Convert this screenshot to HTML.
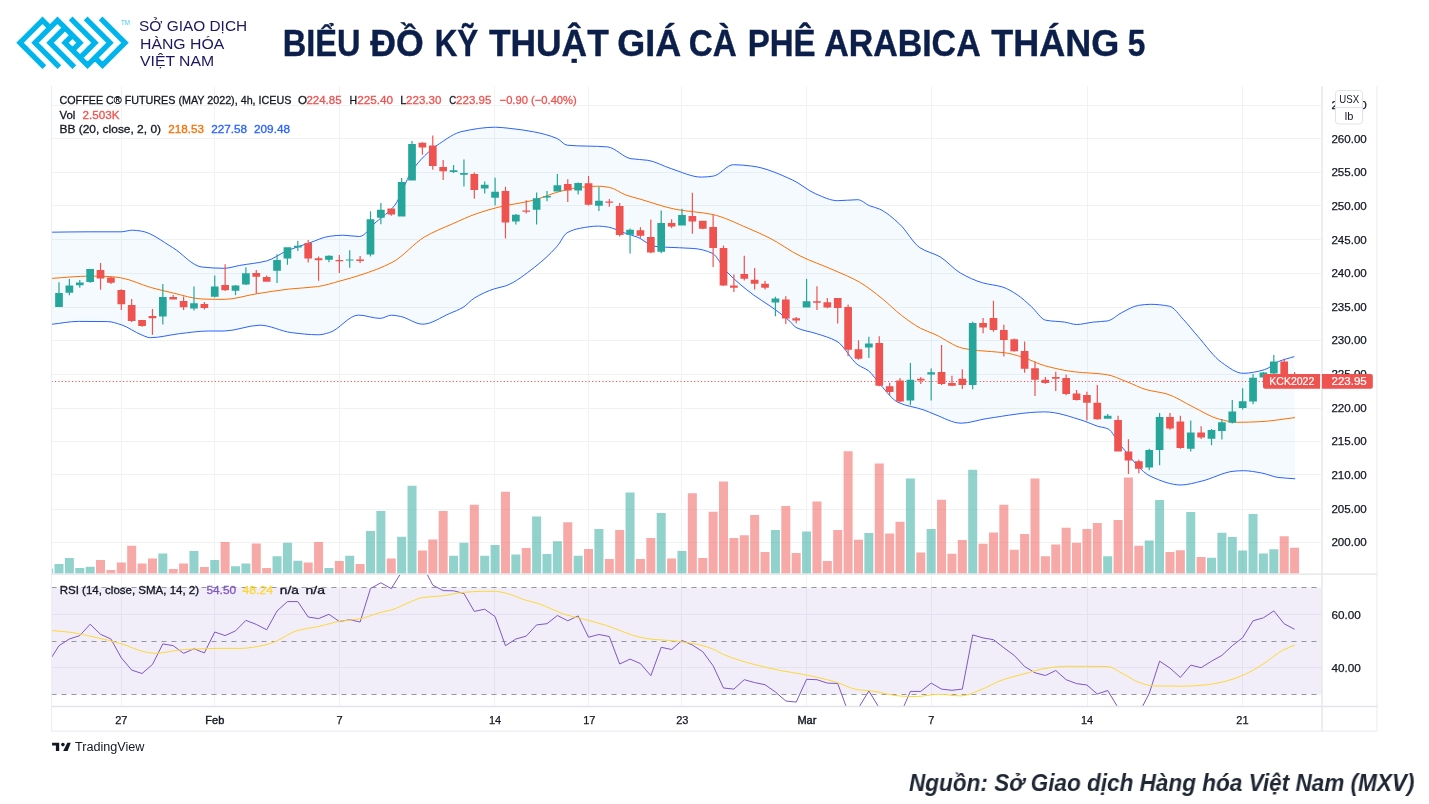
<!DOCTYPE html>
<html><head><meta charset="utf-8"><style>
html,body{margin:0;padding:0;background:#fff;}
body{width:1429px;height:804px;overflow:hidden;position:relative;font-family:"Liberation Sans",sans-serif;}
svg text{font-family:"Liberation Sans",sans-serif;}
.t{position:absolute;white-space:nowrap;line-height:1;}
svg,.t{will-change:transform;}
</style></head><body>
<svg width="150" height="80" style="position:absolute;left:0;top:0"><path transform="matrix(3.75,3.75,3.75,-3.75,72.5,42.85)" d="M-7.5 -7.5h3v1h-3ZM-5.5 -7.5h3v1h-3ZM-3.5 -7.5h3v1h-3ZM-7.5 -1.5h3v1h-3ZM-5.5 -5.5h3v1h-3ZM-3.5 -5.5h3v1h-3ZM-1.5 -5.5h3v1h-3ZM-5.5 0.5h3v1h-3ZM-3.5 0.5h3v1h-3ZM-1.5 0.5h3v1h-3ZM-3.5 -3.5h3v1h-3ZM-1.5 -3.5h3v1h-3ZM0.5 -3.5h3v1h-3ZM-1.5 -1.5h3v1h-3ZM0.5 -1.5h3v1h-3ZM2.5 -1.5h3v1h-3ZM4.5 6.5h3v1h-3ZM2.5 6.5h3v1h-3ZM0.5 6.5h3v1h-3ZM4.5 0.5h3v1h-3ZM2.5 4.5h3v1h-3ZM0.5 4.5h3v1h-3ZM-1.5 4.5h3v1h-3ZM0.5 2.5h3v1h-3ZM-1.5 2.5h3v1h-3ZM-3.5 2.5h3v1h-3ZM-7.5 -7.5h1v3h-1ZM-7.5 -5.5h1v3h-1ZM-7.5 -3.5h1v3h-1ZM-5.5 -5.5h1v3h-1ZM-5.5 -3.5h1v3h-1ZM-5.5 -1.5h1v3h-1ZM-3.5 -3.5h1v3h-1ZM-3.5 -1.5h1v3h-1ZM-1.5 -1.5h1v3h-1ZM6.5 4.5h1v3h-1ZM6.5 2.5h1v3h-1ZM6.5 0.5h1v3h-1ZM4.5 2.5h1v3h-1ZM4.5 0.5h1v3h-1ZM4.5 -1.5h1v3h-1ZM2.5 0.5h1v3h-1ZM2.5 -1.5h1v3h-1ZM0.5 -1.5h1v3h-1Z" fill="#00b5ec"/><text x="121" y="24.9" font-size="6.6" textLength="9" lengthAdjust="spacingAndGlyphs" fill="#00b5ec" opacity="0.75">TM</text></svg>
<div class="t" id="lt1" style="left:139px;top:18px;font-size:15.4px;color:#1c1760">SỞ GIAO DỊCH</div>
<div class="t" id="lt2" style="left:139.5px;top:35.5px;font-size:15.4px;color:#1c1760;transform-origin:0 0;transform:scaleX(1.026)">HÀNG HÓA</div>
<div class="t" id="lt3" style="left:139.5px;top:53px;font-size:15.4px;color:#1c1760;transform-origin:0 0;transform:scaleX(1.024)">VIỆT NAM</div>
<svg width="1429" height="80" style="position:absolute;left:0;top:0"><g font-size="36" font-weight="bold" fill="#0b1f4a" stroke="#0b1f4a" stroke-width="0.4"><text x="282.79" y="56.4" textLength="77.73" lengthAdjust="spacingAndGlyphs">BIỂU</text><text x="370.3" y="56.4" textLength="53.49" lengthAdjust="spacingAndGlyphs">ĐỒ</text><text x="434.66" y="56.4" textLength="43.63" lengthAdjust="spacingAndGlyphs">KỸ</text><text x="488.9" y="56.4" textLength="119.88" lengthAdjust="spacingAndGlyphs">THUẬT</text><text x="617.3" y="56.4" textLength="63.91" lengthAdjust="spacingAndGlyphs">GIÁ</text><text x="688.86" y="56.4" textLength="47.97" lengthAdjust="spacingAndGlyphs">CÀ</text><text x="747.67" y="56.4" textLength="67.88" lengthAdjust="spacingAndGlyphs">PHÊ</text><text x="824.16" y="56.4" textLength="156.49" lengthAdjust="spacingAndGlyphs">ARABICA</text><text x="991.2" y="56.4" textLength="128" lengthAdjust="spacingAndGlyphs">THÁNG</text><text x="1127.82" y="56.4" textLength="17.58" lengthAdjust="spacingAndGlyphs">5</text></g></svg>
<svg width="1429" height="804" viewBox="0 0 1429 804" style="position:absolute;left:0;top:0"><defs><clipPath id="cp"><rect x="51.5" y="86" width="1270.0" height="488"/></clipPath><clipPath id="cr"><rect x="51.5" y="575" width="1270.0" height="131"/></clipPath></defs><path d="M121.5 86V706M214.5 86V706M339.5 86V706M494.5 86V706M588.5 86V706M681.5 86V706M806.5 86V706M931.5 86V706M1087.5 86V706M1242.5 86V706M51.5 105.5H1321.5M51.5 138.5H1321.5M51.5 172.5H1321.5M51.5 205.5H1321.5M51.5 239.5H1321.5M51.5 273.5H1321.5M51.5 307.5H1321.5M51.5 340.5H1321.5M51.5 374.5H1321.5M51.5 408.5H1321.5M51.5 441.5H1321.5M51.5 474.5H1321.5M51.5 509.5H1321.5M51.5 542.5H1321.5M51.5 614.5H1321.5M51.5 667.5H1321.5" stroke="#f1f3f3" stroke-width="1" fill="none"/><rect x="51.5" y="587.5" width="1270.0" height="107" fill="#f2eef9"/><path d="M121.5 587.8V694.6M214.5 587.8V694.6M339.5 587.8V694.6M494.5 587.8V694.6M588.5 587.8V694.6M681.5 587.8V694.6M806.5 587.8V694.6M931.5 587.8V694.6M1087.5 587.8V694.6M1242.5 587.8V694.6M51.5 614.5H1321.5M51.5 667.5H1321.5" stroke="#e6e1f0" stroke-width="1" fill="none"/><path d="M51.5 587.5H1321.5" stroke="#9598a1" stroke-width="1" stroke-dasharray="5 5" fill="none"/><path d="M51.5 641.5H1321.5" stroke="#9598a1" stroke-width="1" stroke-dasharray="5 5" fill="none"/><path d="M51.5 694.5H1321.5" stroke="#9598a1" stroke-width="1" stroke-dasharray="5 5" fill="none"/><g clip-path="url(#cp)"><path d="M51.7 232.2C64.4 232.07 77.1 231.8 89.8 231.8C100.23 231.8 110.67 231.8 121.1 231.8C124.83 231.8 128.57 230.2 132.3 230.2C135.3 230.2 138.3 230.65 141.3 231.1C151.73 232.66 162.17 241.36 172.6 247.5C182.33 253.22 192.07 265.99 201.8 267C209.23 267.77 216.67 268.3 224.1 268.3C229.33 268.3 234.57 266.32 239.8 265.4C248.77 263.82 257.73 263.2 266.7 260.9C273.43 259.17 280.17 253.58 286.9 250.8C294.33 247.73 301.77 245.53 309.2 243C315.93 240.71 322.67 237.15 329.4 236.3C333.87 235.74 338.33 235.2 342.8 235.2C348.3 235.2 353.8 236.5 359.3 236.5C364.9 236.5 370.5 226.93 376.1 222C382.33 216.51 388.57 213 394.8 205.2C400.37 198.24 405.93 179.91 411.5 171.6C415.87 165.08 420.23 160.08 424.6 155.8C429.57 150.94 434.53 146.88 439.5 143.6C446.97 138.67 454.43 133.11 461.9 131.5C473.1 129.08 484.3 127.2 495.5 127.2C500.33 127.2 505.17 127.9 510 128.4C517.87 129.21 525.73 130.29 533.6 131.8C541.43 133.3 549.27 135.2 557.1 138.5C560.47 139.92 563.83 144.88 567.2 145.2C580.63 146.49 594.07 145.77 607.5 146.9C615.33 147.56 623.17 157.49 631 158.7C636.6 159.56 642.2 159.48 647.8 160.3C655.63 161.44 663.47 166.24 671.3 168.7C681.37 171.87 691.43 177.1 701.5 177.1C705.43 177.1 709.37 176.64 713.3 176.1C720.03 175.17 726.77 164.7 733.5 164.7C739.63 164.7 745.77 165.39 751.9 166.1C765.33 167.65 778.77 173.84 792.2 179.8C800.07 183.29 807.93 190.69 815.8 193.9C823.07 196.87 830.33 200.7 837.6 200.7C844.3 200.7 851 199.7 857.7 199.7C861.63 199.7 865.57 204.12 869.5 205.7C872.87 207.06 876.23 207.6 879.6 209.1C886.3 212.09 893 218.08 899.7 224.2C906.43 230.35 913.17 243.31 919.9 247.7C926.6 252.07 933.3 252.93 940 256.8C946.73 260.69 953.47 269.05 960.2 272.9C967.67 277.17 975.13 280.67 982.6 282.8C989.33 284.72 996.07 285 1002.8 287.1C1007.57 288.59 1012.33 291.61 1017.1 294.7C1021.87 297.79 1026.63 302.37 1031.4 306.6C1036.17 310.83 1040.93 319.3 1045.7 320.2C1052.03 321.39 1058.37 321.23 1064.7 322.1C1068.67 322.64 1072.63 324.5 1076.6 324.5C1082.13 324.5 1087.67 322.68 1093.2 322.1C1097.97 321.6 1102.73 321.6 1107.5 320.9C1112.27 320.2 1117.03 314.98 1121.8 312.6C1127.33 309.84 1132.87 306.21 1138.4 305.4C1142.37 304.82 1146.33 304.3 1150.3 304.3C1156.67 304.3 1163.03 305.01 1169.4 306.2C1174.13 307.09 1178.87 314.74 1183.6 319.7C1188.37 324.7 1193.13 330.99 1197.9 336.4C1205.83 345.4 1213.77 357.05 1221.7 362.5C1228.83 367.4 1235.97 373.3 1243.1 373.3C1250.23 373.3 1257.37 371.63 1264.5 369.7C1269.27 368.41 1274.03 363.33 1278.8 361.4C1283.97 359.3 1289.13 358.2 1294.3 356.6L1295.2 478.8C1289.43 478.33 1283.67 478.12 1277.9 477.4C1272.5 476.72 1267.1 473.93 1261.7 473C1255.57 471.94 1249.43 470.7 1243.3 470.7C1240.2 470.7 1237.1 470.95 1234 471.2C1223.23 472.07 1212.47 478.64 1201.7 481.1C1194.77 482.69 1187.83 485 1180.9 485C1170.9 485 1160.9 480.94 1150.9 476.5C1140.9 472.06 1130.9 457.47 1120.9 445.8C1116.57 440.74 1112.23 430.56 1107.9 428.8C1104.4 427.38 1100.9 427.25 1097.4 426.2C1092.6 424.76 1087.8 422.03 1083 420.6C1070.23 416.79 1057.47 411.9 1044.7 411.9C1025.53 411.9 1006.37 415.74 987.2 418.5C978.5 419.75 969.8 423.2 961.1 423.2C952.4 423.2 943.7 417.74 935 414.5C931.33 413.13 927.67 411.29 924 410C915.3 406.95 906.6 406.41 897.9 402.3C892.1 399.56 886.3 391.19 880.5 384.9C876.43 380.49 872.37 373.61 868.3 370.6C864.83 368.04 861.37 367.36 857.9 364.9C850.93 359.96 843.97 345.34 837 341.4C830.03 337.46 823.07 335.83 816.1 333.5C809.43 331.27 802.77 330.9 796.1 327.5C794.07 326.46 792.03 323.21 790 321.4C783.3 315.43 776.6 310.69 769.9 305.9C764.47 302.02 759.03 299.06 753.6 295C744.6 288.28 735.6 281.05 726.6 271.6C721.77 266.53 716.93 255.34 712.1 253.2C706.1 250.54 700.1 248.99 694.1 248.5C684.5 247.72 674.9 247.79 665.3 247.2C661.67 246.98 658.03 246.79 654.4 246.3C648.83 245.54 643.27 239.57 637.7 237.3C633.2 235.46 628.7 234.35 624.2 232.8C619 231 613.8 228.04 608.6 227.2C605.23 226.66 601.87 226.1 598.5 226.1C592.17 226.1 585.83 227.22 579.5 228.4C575.37 229.17 571.23 230.43 567.1 232.8C563.77 234.71 560.43 242.54 557.1 246.3C549.63 254.71 542.17 261.37 534.7 267.1C525 274.55 515.3 282.53 505.6 285.9C501.87 287.2 498.13 287.59 494.4 288.8C487.67 290.98 480.93 294.09 474.2 298.2C470.47 300.48 466.73 305.19 463 307.4C458.53 310.04 454.07 311.59 449.6 313.5C440.63 317.34 431.67 324.2 422.7 324.2C415.23 324.2 407.77 317.76 400.3 316.4C397.33 315.86 394.37 315.2 391.4 315.2C387.67 315.2 383.93 318.4 380.2 318.4C372.97 318.4 365.73 315.1 358.5 315.1C348.8 315.1 339.1 329.93 329.4 332.6C325.67 333.63 321.93 334.8 318.2 334.8C309.23 334.8 300.27 333.68 291.3 332.6C280.87 331.35 270.43 325.2 260 325.2C248.03 325.2 236.07 331 224.1 331C218.9 331 213.7 331 208.5 331C198.8 331 189.1 332.63 179.4 333.7C169.67 334.78 159.93 337.7 150.2 337.7C147.4 337.7 144.6 336.06 141.8 335C134.9 332.38 128 326.82 121.1 324.7C116.63 323.33 112.17 321.67 107.7 321.6C98 321.45 88.3 321.4 78.6 321.4C69.63 321.4 60.67 323.33 51.7 324.3Z" fill="#2196f3" fill-opacity="0.05"/><path d="M54.5 564.1h9V573.5h-9ZM64.88 558h9V573.5h-9ZM75.27 567.9h9V573.5h-9ZM85.65 566.7h9V573.5h-9ZM158.33 553.5h9V573.5h-9ZM189.48 551.1h9V573.5h-9ZM210.24 560h9V573.5h-9ZM231.01 566.3h9V573.5h-9ZM241.39 563.4h9V573.5h-9ZM272.54 556.2h9V573.5h-9ZM282.93 542.8h9V573.5h-9ZM293.31 560.7h9V573.5h-9ZM324.46 567.9h9V573.5h-9ZM345.22 555.8h9V573.5h-9ZM365.99 530.9h9V573.5h-9ZM376.37 511h9V573.5h-9ZM397.14 536.7h9V573.5h-9ZM407.52 485.7h9V573.5h-9ZM449.05 555.8h9V573.5h-9ZM459.44 542.8h9V573.5h-9ZM480.2 555.8h9V573.5h-9ZM490.59 545h9V573.5h-9ZM511.35 554.4h9V573.5h-9ZM532.12 516.4h9V573.5h-9ZM542.5 554h9V573.5h-9ZM552.88 541.2h9V573.5h-9ZM573.65 555.8h9V573.5h-9ZM594.42 528.9h9V573.5h-9ZM625.56 492.4h9V573.5h-9ZM656.71 513h9V573.5h-9ZM677.48 551h9V573.5h-9ZM770.93 530h9V573.5h-9ZM802.08 531.4h9V573.5h-9ZM864.37 532.9h9V573.5h-9ZM905.91 478.5h9V573.5h-9ZM926.67 528.9h9V573.5h-9ZM968.2 469.8h9V573.5h-9ZM1103.18 556.2h9V573.5h-9ZM1144.71 540.5h9V573.5h-9ZM1155.1 500h9V573.5h-9ZM1186.25 512h9V573.5h-9ZM1207.01 557.8h9V573.5h-9ZM1217.4 532.8h9V573.5h-9ZM1227.78 537h9V573.5h-9ZM1238.16 550.4h9V573.5h-9ZM1248.54 513.9h9V573.5h-9ZM1258.93 553.6h9V573.5h-9ZM1269.31 549.2h9V573.5h-9ZM44.12 568.5h9V573.5h-9Z" fill="rgba(38,166,154,0.5)"/><path d="M96.03 560h9V573.5h-9ZM106.41 570.1h9V573.5h-9ZM116.8 562.5h9V573.5h-9ZM127.18 545.7h9V573.5h-9ZM137.56 563.4h9V573.5h-9ZM147.95 558.5h9V573.5h-9ZM168.71 569h9V573.5h-9ZM179.1 563.4h9V573.5h-9ZM199.86 567h9V573.5h-9ZM220.63 542.1h9V573.5h-9ZM251.78 543.4h9V573.5h-9ZM262.16 567.9h9V573.5h-9ZM303.69 562.5h9V573.5h-9ZM314.07 542.1h9V573.5h-9ZM334.84 561.1h9V573.5h-9ZM355.61 564.1h9V573.5h-9ZM386.76 558.5h9V573.5h-9ZM417.9 550.6h9V573.5h-9ZM428.29 539.4h9V573.5h-9ZM438.67 511h9V573.5h-9ZM469.82 504.7h9V573.5h-9ZM500.97 491.7h9V573.5h-9ZM521.73 547.9h9V573.5h-9ZM563.27 522.2h9V573.5h-9ZM584.03 549h9V573.5h-9ZM604.8 559.1h9V573.5h-9ZM615.18 530h9V573.5h-9ZM635.95 559.1h9V573.5h-9ZM646.33 537.9h9V573.5h-9ZM667.1 558.6h9V573.5h-9ZM687.86 493.3h9V573.5h-9ZM698.25 558h9V573.5h-9ZM708.63 511.7h9V573.5h-9ZM719.01 481.4h9V573.5h-9ZM729.39 537.9h9V573.5h-9ZM739.78 535.2h9V573.5h-9ZM750.16 515h9V573.5h-9ZM760.54 552h9V573.5h-9ZM781.31 506.1h9V573.5h-9ZM791.69 553.1h9V573.5h-9ZM812.46 501.6h9V573.5h-9ZM822.84 561.1h9V573.5h-9ZM833.22 530h9V573.5h-9ZM843.61 451.2h9V573.5h-9ZM853.99 539.7h9V573.5h-9ZM874.76 463.5h9V573.5h-9ZM885.14 533.6h9V573.5h-9ZM895.52 521.7h9V573.5h-9ZM916.29 552.6h9V573.5h-9ZM937.05 499.8h9V573.5h-9ZM947.44 553.8h9V573.5h-9ZM957.82 539.9h9V573.5h-9ZM978.59 543.8h9V573.5h-9ZM988.97 532.6h9V573.5h-9ZM999.35 504.7h9V573.5h-9ZM1009.74 549.7h9V573.5h-9ZM1020.12 534h9V573.5h-9ZM1030.5 478.6h9V573.5h-9ZM1040.88 556.2h9V573.5h-9ZM1051.27 544.4h9V573.5h-9ZM1061.65 527.8h9V573.5h-9ZM1072.03 542.8h9V573.5h-9ZM1082.42 528.9h9V573.5h-9ZM1092.8 523.1h9V573.5h-9ZM1113.57 520.1h9V573.5h-9ZM1123.95 477.6h9V573.5h-9ZM1134.33 545.8h9V573.5h-9ZM1165.48 552h9V573.5h-9ZM1175.86 550.2h9V573.5h-9ZM1196.63 557.1h9V573.5h-9ZM1279.69 536.3h9V573.5h-9ZM1290.08 547.8h9V573.5h-9Z" fill="rgba(239,83,80,0.5)"/><path d="M51.7 278.4C64.4 277.63 77.1 276.1 89.8 276.1C96.7 276.1 103.6 276.3 110.5 276.6C114.23 276.76 117.97 277.37 121.7 278C131.4 279.64 141.1 284.8 150.8 287.5C158.27 289.58 165.73 291.31 173.2 293C182.73 295.16 192.27 298.7 201.8 299C209.23 299.24 216.67 299.4 224.1 299.4C234.73 299.4 245.37 295.58 256 293.9C267.2 292.13 278.4 290.2 289.6 289C298.93 288 308.27 287.81 317.6 286.6C325.07 285.63 332.53 283.01 340 281C346.67 279.21 353.33 277.42 360 275.2C370.97 271.56 381.93 267.85 392.9 262C403.47 256.36 414.03 243.08 424.6 236.9C433.93 231.44 443.27 227.93 452.6 223.8C460.67 220.23 468.73 216.39 476.8 213.6C484.27 211.02 491.73 208.78 499.2 207C510.23 204.37 521.27 203.2 532.3 200.5C542.67 197.97 553.03 192.85 563.4 190.5C569.63 189.08 575.87 187.62 582.1 187.1C587.5 186.65 592.9 186.2 598.3 186.2C602.03 186.2 605.77 186.77 609.5 187.4C614.87 188.3 620.23 192.98 625.6 194.9C630.4 196.61 635.2 197.71 640 199.1C652.03 202.58 664.07 207.15 676.1 209.4C688.1 211.64 700.1 211.95 712.1 214.4C724.13 216.86 736.17 223.24 748.2 228.3C755.43 231.34 762.67 234.51 769.9 238.2C779.93 243.32 789.97 250.96 800 255.9C811.17 261.39 822.33 265.04 833.5 270C842.2 273.86 850.9 277.22 859.6 282.2C867.17 286.53 874.73 292.69 882.3 298.7C888.67 303.75 895.03 310.45 901.4 315.3C907.8 320.17 914.2 325 920.6 328.3C925.4 330.77 930.2 332.22 935 334.4C944.3 338.62 953.6 346.29 962.9 348.3C968.1 349.43 973.3 350.04 978.5 350.6C987.2 351.53 995.9 351.61 1004.6 352.7C1010.4 353.43 1016.2 355.27 1022 357C1029.57 359.25 1037.13 363.64 1044.7 365.7C1054.57 368.38 1064.43 370.61 1074.3 371.8C1084.9 373.08 1095.5 372.99 1106.1 374.5C1113.07 375.49 1120.03 379.18 1127 381.8C1133.4 384.21 1139.8 387.81 1146.2 389.6C1153.13 391.54 1160.07 391.97 1167 394C1175.73 396.55 1184.47 402.8 1193.2 407C1201.9 411.19 1210.6 417.08 1219.3 419.2C1225.33 420.67 1231.37 422.3 1237.4 422.3C1244.87 422.3 1252.33 422.01 1259.8 421.7C1271.53 421.21 1283.27 418.97 1295 417.6" fill="none" stroke="#ff6d00" stroke-width="1"/><path d="M51.7 232.2C64.4 232.07 77.1 231.8 89.8 231.8C100.23 231.8 110.67 231.8 121.1 231.8C124.83 231.8 128.57 230.2 132.3 230.2C135.3 230.2 138.3 230.65 141.3 231.1C151.73 232.66 162.17 241.36 172.6 247.5C182.33 253.22 192.07 265.99 201.8 267C209.23 267.77 216.67 268.3 224.1 268.3C229.33 268.3 234.57 266.32 239.8 265.4C248.77 263.82 257.73 263.2 266.7 260.9C273.43 259.17 280.17 253.58 286.9 250.8C294.33 247.73 301.77 245.53 309.2 243C315.93 240.71 322.67 237.15 329.4 236.3C333.87 235.74 338.33 235.2 342.8 235.2C348.3 235.2 353.8 236.5 359.3 236.5C364.9 236.5 370.5 226.93 376.1 222C382.33 216.51 388.57 213 394.8 205.2C400.37 198.24 405.93 179.91 411.5 171.6C415.87 165.08 420.23 160.08 424.6 155.8C429.57 150.94 434.53 146.88 439.5 143.6C446.97 138.67 454.43 133.11 461.9 131.5C473.1 129.08 484.3 127.2 495.5 127.2C500.33 127.2 505.17 127.9 510 128.4C517.87 129.21 525.73 130.29 533.6 131.8C541.43 133.3 549.27 135.2 557.1 138.5C560.47 139.92 563.83 144.88 567.2 145.2C580.63 146.49 594.07 145.77 607.5 146.9C615.33 147.56 623.17 157.49 631 158.7C636.6 159.56 642.2 159.48 647.8 160.3C655.63 161.44 663.47 166.24 671.3 168.7C681.37 171.87 691.43 177.1 701.5 177.1C705.43 177.1 709.37 176.64 713.3 176.1C720.03 175.17 726.77 164.7 733.5 164.7C739.63 164.7 745.77 165.39 751.9 166.1C765.33 167.65 778.77 173.84 792.2 179.8C800.07 183.29 807.93 190.69 815.8 193.9C823.07 196.87 830.33 200.7 837.6 200.7C844.3 200.7 851 199.7 857.7 199.7C861.63 199.7 865.57 204.12 869.5 205.7C872.87 207.06 876.23 207.6 879.6 209.1C886.3 212.09 893 218.08 899.7 224.2C906.43 230.35 913.17 243.31 919.9 247.7C926.6 252.07 933.3 252.93 940 256.8C946.73 260.69 953.47 269.05 960.2 272.9C967.67 277.17 975.13 280.67 982.6 282.8C989.33 284.72 996.07 285 1002.8 287.1C1007.57 288.59 1012.33 291.61 1017.1 294.7C1021.87 297.79 1026.63 302.37 1031.4 306.6C1036.17 310.83 1040.93 319.3 1045.7 320.2C1052.03 321.39 1058.37 321.23 1064.7 322.1C1068.67 322.64 1072.63 324.5 1076.6 324.5C1082.13 324.5 1087.67 322.68 1093.2 322.1C1097.97 321.6 1102.73 321.6 1107.5 320.9C1112.27 320.2 1117.03 314.98 1121.8 312.6C1127.33 309.84 1132.87 306.21 1138.4 305.4C1142.37 304.82 1146.33 304.3 1150.3 304.3C1156.67 304.3 1163.03 305.01 1169.4 306.2C1174.13 307.09 1178.87 314.74 1183.6 319.7C1188.37 324.7 1193.13 330.99 1197.9 336.4C1205.83 345.4 1213.77 357.05 1221.7 362.5C1228.83 367.4 1235.97 373.3 1243.1 373.3C1250.23 373.3 1257.37 371.63 1264.5 369.7C1269.27 368.41 1274.03 363.33 1278.8 361.4C1283.97 359.3 1289.13 358.2 1294.3 356.6" fill="none" stroke="#2962ff" stroke-width="1"/><path d="M51.7 324.3C60.67 323.33 69.63 321.4 78.6 321.4C88.3 321.4 98 321.45 107.7 321.6C112.17 321.67 116.63 323.33 121.1 324.7C128 326.82 134.9 332.38 141.8 335C144.6 336.06 147.4 337.7 150.2 337.7C159.93 337.7 169.67 334.78 179.4 333.7C189.1 332.63 198.8 331 208.5 331C213.7 331 218.9 331 224.1 331C236.07 331 248.03 325.2 260 325.2C270.43 325.2 280.87 331.35 291.3 332.6C300.27 333.68 309.23 334.8 318.2 334.8C321.93 334.8 325.67 333.63 329.4 332.6C339.1 329.93 348.8 315.1 358.5 315.1C365.73 315.1 372.97 318.4 380.2 318.4C383.93 318.4 387.67 315.2 391.4 315.2C394.37 315.2 397.33 315.86 400.3 316.4C407.77 317.76 415.23 324.2 422.7 324.2C431.67 324.2 440.63 317.34 449.6 313.5C454.07 311.59 458.53 310.04 463 307.4C466.73 305.19 470.47 300.48 474.2 298.2C480.93 294.09 487.67 290.98 494.4 288.8C498.13 287.59 501.87 287.2 505.6 285.9C515.3 282.53 525 274.55 534.7 267.1C542.17 261.37 549.63 254.71 557.1 246.3C560.43 242.54 563.77 234.71 567.1 232.8C571.23 230.43 575.37 229.17 579.5 228.4C585.83 227.22 592.17 226.1 598.5 226.1C601.87 226.1 605.23 226.66 608.6 227.2C613.8 228.04 619 231 624.2 232.8C628.7 234.35 633.2 235.46 637.7 237.3C643.27 239.57 648.83 245.54 654.4 246.3C658.03 246.79 661.67 246.98 665.3 247.2C674.9 247.79 684.5 247.72 694.1 248.5C700.1 248.99 706.1 250.54 712.1 253.2C716.93 255.34 721.77 266.53 726.6 271.6C735.6 281.05 744.6 288.28 753.6 295C759.03 299.06 764.47 302.02 769.9 305.9C776.6 310.69 783.3 315.43 790 321.4C792.03 323.21 794.07 326.46 796.1 327.5C802.77 330.9 809.43 331.27 816.1 333.5C823.07 335.83 830.03 337.46 837 341.4C843.97 345.34 850.93 359.96 857.9 364.9C861.37 367.36 864.83 368.04 868.3 370.6C872.37 373.61 876.43 380.49 880.5 384.9C886.3 391.19 892.1 399.56 897.9 402.3C906.6 406.41 915.3 406.95 924 410C927.67 411.29 931.33 413.13 935 414.5C943.7 417.74 952.4 423.2 961.1 423.2C969.8 423.2 978.5 419.75 987.2 418.5C1006.37 415.74 1025.53 411.9 1044.7 411.9C1057.47 411.9 1070.23 416.79 1083 420.6C1087.8 422.03 1092.6 424.76 1097.4 426.2C1100.9 427.25 1104.4 427.38 1107.9 428.8C1112.23 430.56 1116.57 440.74 1120.9 445.8C1130.9 457.47 1140.9 472.06 1150.9 476.5C1160.9 480.94 1170.9 485 1180.9 485C1187.83 485 1194.77 482.69 1201.7 481.1C1212.47 478.64 1223.23 472.07 1234 471.2C1237.1 470.95 1240.2 470.7 1243.3 470.7C1249.43 470.7 1255.57 471.94 1261.7 473C1267.1 473.93 1272.5 476.72 1277.9 477.4C1283.67 478.12 1289.43 478.33 1295.2 478.8" fill="none" stroke="#2962ff" stroke-width="1"/><path d="M51.5 381.5H1263" stroke="#ef5350" stroke-width="1" stroke-dasharray="1.2 2.2" fill="none"/><path d="M55.15 293.1h7.7V307.1h-7.7ZM58.4 282.2h1.2V307.1h-1.2ZM65.53 285.6h7.7V292.7h-7.7ZM68.78 279.1h1.2V295.3h-1.2ZM75.92 282.4h7.7V285.2h-7.7ZM79.17 279.9h1.2V287.7h-1.2ZM86.3 269h7.7V282.1h-7.7ZM89.55 269h1.2V282.8h-1.2ZM158.98 297h7.7V316.6h-7.7ZM162.23 284.1h1.2V324.4h-1.2ZM190.13 303.2h7.7V308.5h-7.7ZM193.38 286.4h1.2V310.4h-1.2ZM210.89 286.4h7.7V296.7h-7.7ZM214.14 275.6h1.2V297.6h-1.2ZM231.66 285.5h7.7V290.7h-7.7ZM234.91 284.9h1.2V295.2h-1.2ZM242.04 273.2h7.7V284.4h-7.7ZM245.29 267.3h1.2V284.9h-1.2ZM273.19 259.9h7.7V270.7h-7.7ZM276.44 254.3h1.2V282.9h-1.2ZM283.58 247.2h7.7V258.6h-7.7ZM286.83 247.2h1.2V264.8h-1.2ZM293.96 245.7h7.7V247.4h-7.7ZM297.21 241h1.2V251h-1.2ZM325.11 255.8h7.7V259.7h-7.7ZM328.36 255.2h1.2V262.2h-1.2ZM345.87 259.4h7.7V260.6h-7.7ZM349.12 250.2h1.2V267.8h-1.2ZM366.64 219.2h7.7V254.6h-7.7ZM369.89 211.2h1.2V256.5h-1.2ZM377.02 209.8h7.7V217.7h-7.7ZM380.27 203h1.2V224.2h-1.2ZM397.79 181.9h7.7V216.4h-7.7ZM401.04 178.1h1.2V216.4h-1.2ZM408.17 144h7.7V180.6h-7.7ZM411.42 140.9h1.2V180.6h-1.2ZM449.7 170.3h7.7V172h-7.7ZM452.95 165.1h1.2V173.1h-1.2ZM460.09 173.1h7.7V174.8h-7.7ZM463.34 159.5h1.2V186.5h-1.2ZM480.85 184.7h7.7V188.4h-7.7ZM484.1 181.5h1.2V193.6h-1.2ZM491.24 191.8h7.7V197.7h-7.7ZM494.49 177.8h1.2V205.6h-1.2ZM512 214.8h7.7V221.6h-7.7ZM515.25 214.1h1.2V224.5h-1.2ZM532.77 198.2h7.7V209.8h-7.7ZM536.02 192.6h1.2V224.5h-1.2ZM543.15 196.1h7.7V197.6h-7.7ZM546.4 190.9h1.2V201.3h-1.2ZM553.53 185.3h7.7V191.5h-7.7ZM556.78 174.1h1.2V191.5h-1.2ZM574.3 183h7.7V190.5h-7.7ZM577.55 182.4h1.2V194.5h-1.2ZM595.07 200.8h7.7V205.7h-7.7ZM598.32 186.8h1.2V211h-1.2ZM626.21 229.7h7.7V234.7h-7.7ZM629.46 228.5h1.2V253.6h-1.2ZM657.36 222.9h7.7V251.7h-7.7ZM660.61 210.6h1.2V253.2h-1.2ZM678.13 215.1h7.7V225.6h-7.7ZM681.38 208.8h1.2V225.6h-1.2ZM771.58 298.6h7.7V302.6h-7.7ZM774.83 296.8h1.2V316.3h-1.2ZM802.73 301.3h7.7V307.4h-7.7ZM805.98 279.1h1.2V307.4h-1.2ZM865.02 343.5h7.7V347.5h-7.7ZM868.27 336.7h1.2V357.9h-1.2ZM906.56 379.7h7.7V400.6h-7.7ZM909.81 363.1h1.2V404.9h-1.2ZM927.32 372.2h7.7V374.5h-7.7ZM930.57 368.4h1.2V400.6h-1.2ZM968.85 323.1h7.7V384.9h-7.7ZM972.1 321.7h1.2V389.2h-1.2ZM1103.83 415.7h7.7V418.7h-7.7ZM1107.08 414h1.2V418.7h-1.2ZM1145.37 450h7.7V467.4h-7.7ZM1148.62 448.8h1.2V470.2h-1.2ZM1155.75 417h7.7V450h-7.7ZM1159 413.1h1.2V465.3h-1.2ZM1186.9 432.6h7.7V448.8h-7.7ZM1190.15 420.4h1.2V451.4h-1.2ZM1207.66 430h7.7V438.7h-7.7ZM1210.91 429.1h1.2V445.3h-1.2ZM1218.05 422.3h7.7V430.9h-7.7ZM1221.3 419.2h1.2V439.6h-1.2ZM1228.43 411.5h7.7V422.7h-7.7ZM1231.68 400.1h1.2V423.6h-1.2ZM1238.81 401.3h7.7V407.9h-7.7ZM1242.06 388.3h1.2V409.4h-1.2ZM1249.19 377.8h7.7V401.5h-7.7ZM1252.44 374.1h1.2V404.3h-1.2ZM1259.58 372.5h7.7V377.5h-7.7ZM1262.83 371.9h1.2V378h-1.2ZM1269.96 361.5h7.7V373.6h-7.7ZM1273.21 354.9h1.2V375h-1.2Z" fill="#26a69a"/><path d="M96.68 270.1h7.7V278.5h-7.7ZM99.93 263.1h1.2V289.7h-1.2ZM107.06 277.4h7.7V282.8h-7.7ZM110.31 276.8h1.2V283.9h-1.2ZM117.45 290h7.7V304.3h-7.7ZM120.7 289.2h1.2V309.9h-1.2ZM127.83 305h7.7V321.1h-7.7ZM131.08 299h1.2V322h-1.2ZM138.21 320h7.7V325.9h-7.7ZM141.46 320h1.2V326.7h-1.2ZM148.6 316h7.7V318.3h-7.7ZM151.85 309.1h1.2V334.8h-1.2ZM169.36 297h7.7V299.5h-7.7ZM172.61 295.1h1.2V299.5h-1.2ZM179.75 300.9h7.7V307.3h-7.7ZM183 296.4h1.2V309.9h-1.2ZM200.51 304h7.7V307.9h-7.7ZM203.76 302h1.2V309.5h-1.2ZM221.28 285.1h7.7V290.2h-7.7ZM224.53 264.2h1.2V291h-1.2ZM252.43 272.9h7.7V276.8h-7.7ZM255.68 270.1h1.2V293.5h-1.2ZM262.81 277.1h7.7V281.8h-7.7ZM266.06 275.4h1.2V281.8h-1.2ZM304.34 242.9h7.7V258.6h-7.7ZM307.59 240.1h1.2V262.5h-1.2ZM314.72 258.3h7.7V260.3h-7.7ZM317.97 256.4h1.2V280.7h-1.2ZM335.49 260h7.7V261.2h-7.7ZM338.74 255h1.2V272.9h-1.2ZM356.26 259.6h7.7V261.1h-7.7ZM359.51 256.1h1.2V263h-1.2ZM387.41 208.4h7.7V214.5h-7.7ZM390.66 208.4h1.2V215.8h-1.2ZM418.55 142.7h7.7V147.4h-7.7ZM421.8 142.2h1.2V154.8h-1.2ZM428.94 145.5h7.7V166h-7.7ZM432.19 135.6h1.2V169.8h-1.2ZM439.32 167h7.7V171.2h-7.7ZM442.57 160h1.2V180h-1.2ZM470.47 173.9h7.7V189.9h-7.7ZM473.72 172.6h1.2V198.7h-1.2ZM501.62 190.9h7.7V222.6h-7.7ZM504.87 186.8h1.2V238.4h-1.2ZM522.38 210.4h7.7V211.7h-7.7ZM525.63 200.2h1.2V213.5h-1.2ZM563.92 184h7.7V190.5h-7.7ZM567.17 179.3h1.2V202h-1.2ZM584.68 183.3h7.7V204.8h-7.7ZM587.93 175.9h1.2V205.4h-1.2ZM605.45 201.5h7.7V202.7h-7.7ZM608.7 199h1.2V206.7h-1.2ZM615.83 206h7.7V234.9h-7.7ZM619.08 203h1.2V236.5h-1.2ZM636.6 230.3h7.7V235.7h-7.7ZM639.85 227.2h1.2V237.8h-1.2ZM646.98 236.9h7.7V252.5h-7.7ZM650.23 219.4h1.2V253.3h-1.2ZM667.75 222.9h7.7V226.5h-7.7ZM671 219.3h1.2V227.9h-1.2ZM688.51 216h7.7V221.6h-7.7ZM691.76 192.8h1.2V233.7h-1.2ZM698.9 220.7h7.7V228.7h-7.7ZM702.15 220.7h1.2V229.2h-1.2ZM709.28 227h7.7V248.1h-7.7ZM712.53 214.8h1.2V267.1h-1.2ZM719.66 248.1h7.7V285.6h-7.7ZM722.91 245.4h1.2V286h-1.2ZM730.04 285.5h7.7V287.8h-7.7ZM733.29 274.6h1.2V292h-1.2ZM740.43 273.9h7.7V278.8h-7.7ZM743.68 255.7h1.2V280.6h-1.2ZM750.81 279.7h7.7V283.8h-7.7ZM754.06 268h1.2V289.6h-1.2ZM761.19 283.8h7.7V287.8h-7.7ZM764.44 281.1h1.2V289.6h-1.2ZM781.96 299.5h7.7V318.5h-7.7ZM785.21 296.3h1.2V323.9h-1.2ZM792.34 318.3h7.7V320.5h-7.7ZM795.59 317h1.2V323.3h-1.2ZM813.11 301.3h7.7V302.7h-7.7ZM816.36 286.2h1.2V310h-1.2ZM823.49 302.2h7.7V307.4h-7.7ZM826.74 297.9h1.2V308.3h-1.2ZM833.87 297.9h7.7V308h-7.7ZM837.12 297.9h1.2V323.6h-1.2ZM844.26 307.1h7.7V349.7h-7.7ZM847.51 304.5h1.2V356.2h-1.2ZM854.64 349.2h7.7V358.8h-7.7ZM857.89 340.2h1.2V359.7h-1.2ZM875.41 343.1h7.7V385.8h-7.7ZM878.66 336.2h1.2V386.3h-1.2ZM885.79 386.3h7.7V391.9h-7.7ZM889.04 382.8h1.2V395.3h-1.2ZM896.17 380.6h7.7V401.4h-7.7ZM899.42 377.9h1.2V402.3h-1.2ZM916.94 378.8h7.7V380.6h-7.7ZM920.19 377.1h1.2V384h-1.2ZM937.7 372h7.7V384h-7.7ZM940.95 344.9h1.2V384.9h-1.2ZM948.09 383.1h7.7V385.8h-7.7ZM951.34 375.8h1.2V386.3h-1.2ZM958.47 378.8h7.7V384.9h-7.7ZM961.72 369.2h1.2V388.9h-1.2ZM979.24 323.1h7.7V327.4h-7.7ZM982.49 317.9h1.2V333.2h-1.2ZM989.62 317.9h7.7V330h-7.7ZM992.87 300.8h1.2V331.8h-1.2ZM1000 330h7.7V340h-7.7ZM1003.25 324.8h1.2V356.5h-1.2ZM1010.39 339.3h7.7V351.3h-7.7ZM1013.64 338.4h1.2V351.8h-1.2ZM1020.77 350.9h7.7V368.7h-7.7ZM1024.02 341.4h1.2V372.7h-1.2ZM1031.15 368.3h7.7V379.7h-7.7ZM1034.4 361.4h1.2V395.9h-1.2ZM1041.53 379.7h7.7V383.1h-7.7ZM1044.78 377h1.2V383.7h-1.2ZM1051.92 377h7.7V378.8h-7.7ZM1055.17 371.8h1.2V391h-1.2ZM1062.3 377.9h7.7V393.9h-7.7ZM1065.55 374.4h1.2V395.3h-1.2ZM1072.68 393.6h7.7V400h-7.7ZM1075.93 390.1h1.2V400.6h-1.2ZM1083.07 394.9h7.7V402.7h-7.7ZM1086.32 391.7h1.2V420.5h-1.2ZM1093.45 402.7h7.7V419.2h-7.7ZM1096.7 384.9h1.2V419.7h-1.2ZM1114.22 420.1h7.7V451.4h-7.7ZM1117.47 415.7h1.2V451.4h-1.2ZM1124.6 451.4h7.7V460.5h-7.7ZM1127.85 439.2h1.2V474.1h-1.2ZM1134.98 461.3h7.7V468.8h-7.7ZM1138.23 459.8h1.2V473.2h-1.2ZM1166.13 417.1h7.7V428.4h-7.7ZM1169.38 413.1h1.2V429.7h-1.2ZM1176.51 421.5h7.7V447.9h-7.7ZM1179.76 415.7h1.2V448.8h-1.2ZM1197.28 432.6h7.7V437.5h-7.7ZM1200.53 426.2h1.2V438.9h-1.2ZM1280.34 361.5h7.7V375.7h-7.7ZM1283.59 358.8h1.2V378h-1.2ZM1290.73 375.7h7.7V381.7h-7.7ZM1293.98 372h1.2V386.1h-1.2Z" fill="#ef5350"/></g><g clip-path="url(#cr)"><polyline points="48.62,662 59,645.7 69.38,639 79.77,635.6 90.15,624.2 100.53,634.3 110.91,639 121.3,657.8 131.68,670.1 142.06,673.5 152.45,664.5 162.83,643.9 173.21,645.7 183.6,653.3 193.98,648.8 204.36,652.9 214.74,632 225.13,635.6 235.51,630.9 245.89,620.4 256.28,624.4 266.66,629.8 277.04,611 287.43,601.6 297.81,601.6 308.19,617 318.57,618.6 328.96,614.3 339.34,621.5 349.72,619.7 360.11,622 370.49,588.5 380.87,582.8 391.26,588.6 401.64,572 412.02,560 422.4,565 432.79,585.2 443.17,590.6 453.55,590.8 463.94,593.5 474.32,611.4 484.7,609.2 495.09,616.6 505.47,645.7 515.85,639 526.23,636.1 536.62,624.9 547,623.7 557.38,615.5 567.77,620.8 578.15,615.9 588.53,637.2 598.92,634.5 609.3,636.5 619.68,664 630.06,659.1 640.45,663.6 650.83,675.7 661.21,647.3 671.6,649.5 681.98,640.5 692.36,645 702.75,651.7 713.13,665.8 723.51,688 733.89,689.1 744.28,679.7 754.66,682.6 765.04,684.7 775.43,692 785.81,701 796.19,702.1 806.58,679.3 816.96,679.7 827.34,683.1 837.72,683.5 848.11,712 858.49,708 868.87,690.9 879.26,708 889.64,716 900.02,715 910.41,691.4 920.79,691.4 931.17,683.1 941.55,689.1 951.94,690.3 962.32,689.1 972.7,634.9 983.09,637.9 993.47,639.7 1003.85,647.8 1014.24,655.4 1024.62,666.5 1035,672.8 1045.38,675.5 1055.77,670.5 1066.15,679.7 1076.53,683.6 1086.92,685 1097.3,694 1107.68,690.5 1118.07,707.7 1128.45,718 1138.83,713.5 1149.21,693.5 1159.6,661.2 1169.98,668.1 1180.36,677.4 1190.75,665.1 1201.13,667.7 1211.51,661.2 1221.9,655.4 1232.28,645.7 1242.66,637.7 1253.04,620.8 1263.43,617.8 1273.81,610.9 1284.19,623.8 1294.58,629.3" fill="none" stroke="#7e57c2" stroke-width="1"/><path d="M51.8 630.5C57.93 631.1 64.07 631.51 70.2 632.3C78.4 633.36 86.6 635.39 94.8 637.2C103.77 639.18 112.73 641.28 121.7 643.9C129.13 646.07 136.57 650.26 144 651.7C147.73 652.42 151.47 653.3 155.2 653.3C164.93 653.3 174.67 650.02 184.4 649.5C195.6 648.91 206.8 648.4 218 648.4C225.43 648.4 232.87 648.4 240.3 648.4C248.53 648.4 256.77 646.7 265 645C268.73 644.23 272.47 642.7 276.2 641.2C282.9 638.52 289.6 632.85 296.3 630.9C303.77 628.73 311.23 628.02 318.7 626.4C326.17 624.78 333.63 622.29 341.1 621.1C347.4 620.1 353.7 619.9 360 618.8C366.73 617.63 373.47 614.27 380.2 612.5C383.93 611.52 387.67 610.99 391.4 609.9C398.1 607.95 404.8 603.94 411.5 601.4C415.23 599.99 418.97 598.04 422.7 597.5C429.43 596.53 436.17 596.56 442.9 595.8C449.6 595.05 456.3 592.95 463 592.4C469.73 591.85 476.47 591.3 483.2 591.3C486.93 591.3 490.67 591.3 494.4 591.3C498.13 591.3 501.87 592.3 505.6 593.1C512.3 594.53 519 598.23 525.7 600.2C529.43 601.3 533.17 601.96 536.9 603.1C546.6 606.06 556.3 611.84 566 614.8C573.47 617.08 580.93 618.41 588.4 620.4C594.37 621.99 600.33 623.65 606.3 625.5C617.5 628.97 628.7 634.84 639.9 637.2C644.4 638.15 648.9 638.97 653.4 639.4C658.93 639.93 664.47 640.02 670 640.5C677.47 641.14 684.93 642.09 692.4 643.4C699.1 644.58 705.8 646.36 712.5 648.8C716.23 650.16 719.97 653.06 723.7 654.6C734.17 658.91 744.63 661.93 755.1 664.7C764.07 667.07 773.03 669.07 782 670.8C789.47 672.24 796.93 673.14 804.4 674.6C814.83 676.64 825.27 679.03 835.7 682C843.17 684.13 850.63 688.86 858.1 689.8C862.57 690.36 867.03 690.42 871.5 690.9C881.23 691.95 890.97 695.69 900.7 696.1C905.9 696.32 911.1 696.5 916.3 696.5C923.77 696.5 931.23 694.3 938.7 694.3C946.17 694.3 953.63 695.9 961.1 695.9C967.4 695.9 973.7 692.38 980 690.1C987.7 687.31 995.4 682.34 1003.1 679.7C1010.03 677.32 1016.97 675.73 1023.9 673.9C1031.6 671.86 1039.3 669.17 1047 668.1C1053.13 667.25 1059.27 666.3 1065.4 666.3C1079.27 666.3 1093.13 666.35 1107 666.5C1112.4 666.56 1117.8 671.24 1123.2 673.9C1128.57 676.54 1133.93 680.72 1139.3 682.5C1143.93 684.04 1148.57 685.79 1153.2 685.9C1162.43 686.11 1171.67 686.2 1180.9 686.2C1188.6 686.2 1196.3 685.62 1204 685C1210.17 684.51 1216.33 683.33 1222.5 682C1229.43 680.5 1236.37 677.99 1243.3 675.1C1250.2 672.22 1257.1 667.83 1264 663.5C1270.17 659.63 1276.33 653.65 1282.5 650.4C1286.6 648.24 1290.7 646.87 1294.8 645.1" fill="none" stroke="#fdd835" stroke-width="1"/></g><path d="M51.5 86V731.2H1377V86" stroke="#eceef3" stroke-width="1.2" fill="none"/><path d="M1322 86V731.2M51.5 574.1H1377M51.5 706.5H1377" stroke="#e3e4e9" stroke-width="1.3" fill="none"/><text x="1331.4" y="142.62" textLength="35.4" lengthAdjust="spacingAndGlyphs" font-size="11" fill="#131722" stroke="#131722" stroke-width="0.25">260.00</text><text x="1331.4" y="176.26" textLength="35.4" lengthAdjust="spacingAndGlyphs" font-size="11" fill="#131722" stroke="#131722" stroke-width="0.25">255.00</text><text x="1331.4" y="209.9" textLength="35.4" lengthAdjust="spacingAndGlyphs" font-size="11" fill="#131722" stroke="#131722" stroke-width="0.25">250.00</text><text x="1331.4" y="243.54" textLength="35.4" lengthAdjust="spacingAndGlyphs" font-size="11" fill="#131722" stroke="#131722" stroke-width="0.25">245.00</text><text x="1331.4" y="277.18" textLength="35.4" lengthAdjust="spacingAndGlyphs" font-size="11" fill="#131722" stroke="#131722" stroke-width="0.25">240.00</text><text x="1331.4" y="310.82" textLength="35.4" lengthAdjust="spacingAndGlyphs" font-size="11" fill="#131722" stroke="#131722" stroke-width="0.25">235.00</text><text x="1331.4" y="344.46" textLength="35.4" lengthAdjust="spacingAndGlyphs" font-size="11" fill="#131722" stroke="#131722" stroke-width="0.25">230.00</text><text x="1331.4" y="378.1" textLength="35.4" lengthAdjust="spacingAndGlyphs" font-size="11" fill="#131722" stroke="#131722" stroke-width="0.25">225.00</text><text x="1331.4" y="411.74" textLength="35.4" lengthAdjust="spacingAndGlyphs" font-size="11" fill="#131722" stroke="#131722" stroke-width="0.25">220.00</text><text x="1331.4" y="445.38" textLength="35.4" lengthAdjust="spacingAndGlyphs" font-size="11" fill="#131722" stroke="#131722" stroke-width="0.25">215.00</text><text x="1331.4" y="479.02" textLength="35.4" lengthAdjust="spacingAndGlyphs" font-size="11" fill="#131722" stroke="#131722" stroke-width="0.25">210.00</text><text x="1331.4" y="512.66" textLength="35.4" lengthAdjust="spacingAndGlyphs" font-size="11" fill="#131722" stroke="#131722" stroke-width="0.25">205.00</text><text x="1331.4" y="546.3" textLength="35.4" lengthAdjust="spacingAndGlyphs" font-size="11" fill="#131722" stroke="#131722" stroke-width="0.25">200.00</text><text x="1331.5" y="618.5" textLength="29.4" lengthAdjust="spacingAndGlyphs" font-size="11" fill="#131722" stroke="#131722" stroke-width="0.25">60.00</text><text x="1331.5" y="671.9" textLength="29.4" lengthAdjust="spacingAndGlyphs" font-size="11" fill="#131722" stroke="#131722" stroke-width="0.25">40.00</text><text x="1331.4" y="108.98" textLength="35.4" lengthAdjust="spacingAndGlyphs" font-size="11" fill="#131722" stroke="#131722" stroke-width="0.25">265.00</text><rect x="1335.5" y="90.5" width="27" height="33.5" rx="3" fill="#fff" stroke="#e0e3eb"/><path d="M1335.5 107.5H1362.5" stroke="#e0e3eb"/><text x="1339.3" y="103" textLength="19.8" lengthAdjust="spacingAndGlyphs" font-size="11" fill="#131722">USX</text><text x="1349" y="119.5" text-anchor="middle" font-size="11" fill="#131722">lb</text><path d="M1265 374.1H1320.1V388.7H1265Q1263 388.7 1263 386.7V376.1Q1263 374.1 1265 374.1Z" fill="#ef5350"/><path d="M1321.9 374.1H1370.8Q1372.8 374.1 1372.8 376.1V386.7Q1372.8 388.7 1370.8 388.7H1321.9Z" fill="#ef5350"/><text x="1269.3" y="384.8" textLength="45" lengthAdjust="spacingAndGlyphs" font-size="11" fill="#fff" stroke="#fff" stroke-width="0.2">KCK2022</text><text x="1331.5" y="384.8" textLength="35.2" lengthAdjust="spacingAndGlyphs" font-size="11" fill="#fff" stroke="#fff" stroke-width="0.2">223.95</text><text x="121.3" y="723.7" text-anchor="middle" font-size="11" stroke="#131722" stroke-width="0.25" fill="#131722">27</text><text x="214.8" y="723.7" text-anchor="middle" font-size="11" stroke="#131722" stroke-width="0.4" fill="#131722">Feb</text><text x="339.5" y="723.7" text-anchor="middle" font-size="11" stroke="#131722" stroke-width="0.25" fill="#131722">7</text><text x="495" y="723.7" text-anchor="middle" font-size="11" stroke="#131722" stroke-width="0.25" fill="#131722">14</text><text x="589.3" y="723.7" text-anchor="middle" font-size="11" stroke="#131722" stroke-width="0.25" fill="#131722">17</text><text x="682.3" y="723.7" text-anchor="middle" font-size="11" stroke="#131722" stroke-width="0.25" fill="#131722">23</text><text x="806.9" y="723.7" text-anchor="middle" font-size="11" stroke="#131722" stroke-width="0.4" fill="#131722">Mar</text><text x="931.3" y="723.7" text-anchor="middle" font-size="11" stroke="#131722" stroke-width="0.25" fill="#131722">7</text><text x="1087" y="723.7" text-anchor="middle" font-size="11" stroke="#131722" stroke-width="0.25" fill="#131722">14</text><text x="1242.4" y="723.7" text-anchor="middle" font-size="11" stroke="#131722" stroke-width="0.25" fill="#131722">21</text><text x="59.5" y="103.6" textLength="231.9" lengthAdjust="spacingAndGlyphs" font-size="11" fill="#131722" stroke="#131722" stroke-width="0.3">COFFEE C® FUTURES (MAY 2022), 4h, ICEUS</text><text x="298" y="103.6" textLength="9" lengthAdjust="spacingAndGlyphs" font-size="11" fill="#131722" stroke="#131722" stroke-width="0.3">O</text><text x="306.4" y="103.6" textLength="35.2" lengthAdjust="spacingAndGlyphs" font-size="11" fill="#ef5350" stroke="#ef5350" stroke-width="0.3">224.85</text><text x="349.4" y="103.6" textLength="7.6" lengthAdjust="spacingAndGlyphs" font-size="11" fill="#131722" stroke="#131722" stroke-width="0.3">H</text><text x="357.2" y="103.6" textLength="35.9" lengthAdjust="spacingAndGlyphs" font-size="11" fill="#ef5350" stroke="#ef5350" stroke-width="0.3">225.40</text><text x="400.2" y="103.6" textLength="6.1" lengthAdjust="spacingAndGlyphs" font-size="11" fill="#131722" stroke="#131722" stroke-width="0.3">L</text><text x="406.1" y="103.6" textLength="35.3" lengthAdjust="spacingAndGlyphs" font-size="11" fill="#ef5350" stroke="#ef5350" stroke-width="0.3">223.30</text><text x="449.2" y="103.6" textLength="6.9" lengthAdjust="spacingAndGlyphs" font-size="11" fill="#131722" stroke="#131722" stroke-width="0.3">C</text><text x="456.1" y="103.6" textLength="35.2" lengthAdjust="spacingAndGlyphs" font-size="11" fill="#ef5350" stroke="#ef5350" stroke-width="0.3">223.95</text><text x="499.6" y="103.6" textLength="77.2" lengthAdjust="spacingAndGlyphs" font-size="11" fill="#ef5350" stroke="#ef5350" stroke-width="0.3">−0.90 (−0.40%)</text><text x="59.5" y="118.5" textLength="15.8" lengthAdjust="spacingAndGlyphs" font-size="11" fill="#131722" stroke="#131722" stroke-width="0.3">Vol</text><text x="82.6" y="118.5" textLength="37" lengthAdjust="spacingAndGlyphs" font-size="11" fill="#ef5350" stroke="#ef5350" stroke-width="0.3">2.503K</text><text x="59.5" y="133.4" textLength="101.5" lengthAdjust="spacingAndGlyphs" font-size="11" fill="#131722" stroke="#131722" stroke-width="0.3">BB (20, close, 2, 0)</text><text x="168.3" y="133.4" textLength="35.6" lengthAdjust="spacingAndGlyphs" font-size="11" fill="#ff6d00" stroke="#ff6d00" stroke-width="0.3">218.53</text><text x="211.2" y="133.4" textLength="35.9" lengthAdjust="spacingAndGlyphs" font-size="11" fill="#2962ff" stroke="#2962ff" stroke-width="0.3">227.58</text><text x="254" y="133.4" textLength="36" lengthAdjust="spacingAndGlyphs" font-size="11" fill="#2962ff" stroke="#2962ff" stroke-width="0.3">209.48</text><text x="59.7" y="594" textLength="139.4" lengthAdjust="spacingAndGlyphs" font-size="11" fill="#131722" stroke="#131722" stroke-width="0.3">RSI (14, close, SMA, 14, 2)</text><text x="206.4" y="594" textLength="29.7" lengthAdjust="spacingAndGlyphs" font-size="11" fill="#7e57c2" stroke="#7e57c2" stroke-width="0.3">54.50</text><text x="242.6" y="594" textLength="30.4" lengthAdjust="spacingAndGlyphs" font-size="11" fill="#fdd835" stroke="#fdd835" stroke-width="0.3">48.24</text><text x="279.8" y="594" textLength="19" lengthAdjust="spacingAndGlyphs" font-size="11" fill="#131722" stroke="#131722" stroke-width="0.3">n/a</text><text x="305.6" y="594" textLength="19.4" lengthAdjust="spacingAndGlyphs" font-size="11" fill="#131722" stroke="#131722" stroke-width="0.3">n/a</text><g fill="#131722"><path d="M52.1 742.8H59.2V751H55.9V745.6H52.1Z"/><circle cx="62.9" cy="744.6" r="1.8"/><path d="M67.3 742.8H70.8L67.6 751H63.2Z"/></g><text x="75" y="751.3" textLength="69.5" lengthAdjust="spacingAndGlyphs" font-size="12.5" fill="#131722">TradingView</text></svg>
<div class="t" id="src" style="left:909px;top:771.5px;font-size:23.7px;font-weight:bold;font-style:italic;color:#1f2633;transform-origin:0 0;transform:scaleX(0.952)">Nguồn: Sở Giao dịch Hàng hóa Việt Nam (MXV)</div>
</body></html>
